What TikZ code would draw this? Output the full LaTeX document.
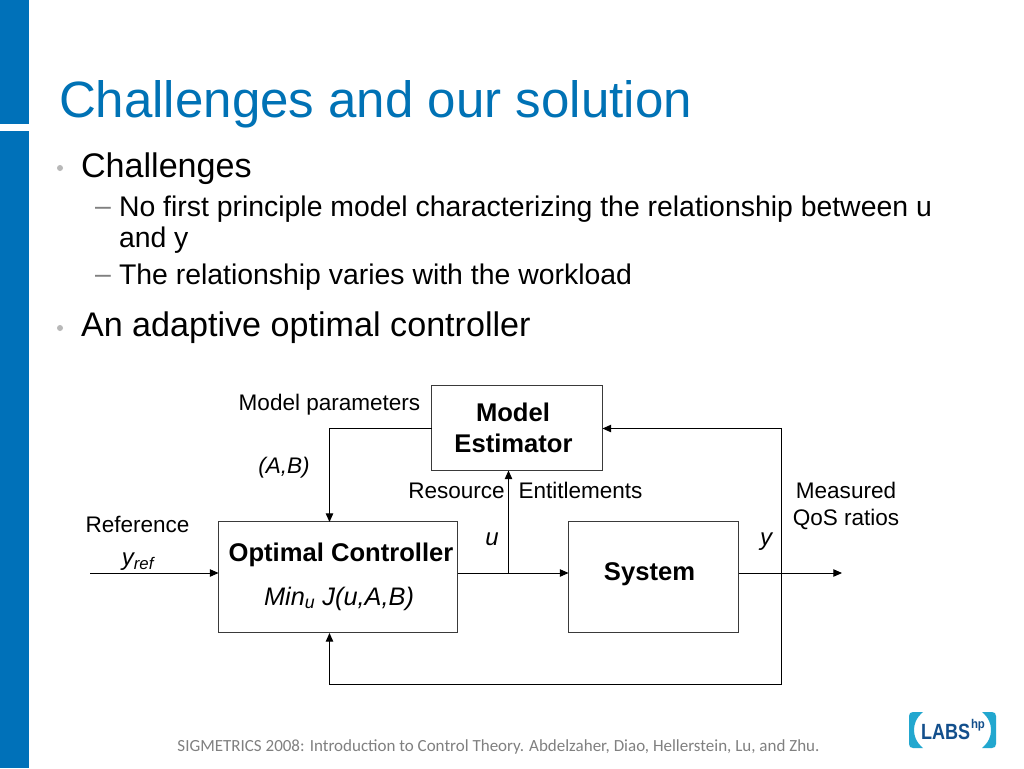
\documentclass[tikz,border=0pt]{standalone}
\usepackage{graphicx}
\usepackage{fontspec}
\setmainfont{Liberation Sans}
\newfontfamily\footfont{Carlito}
\usetikzlibrary{arrows.meta}
\definecolor{hpblue}{HTML}{0071B9}
\definecolor{titleblue}{HTML}{0072B5}
\definecolor{logocyan}{HTML}{22A7CF}
\definecolor{logonavy}{HTML}{134F8C}
\definecolor{linegray}{HTML}{3A3A3A}
\newcommand{\szTitle}{\fontsize{38.3}{44}\selectfont}
\newcommand{\szMain}{\fontsize{25.6}{30}\selectfont}
\newcommand{\szSub}{\fontsize{21.3}{25}\selectfont}
\newcommand{\szLab}{\fontsize{16.9}{20}\selectfont}
\newcommand{\szBold}{\fontsize{19.2}{22}\selectfont\bfseries}
\tikzset{
  x=0.75pt,y=-0.75pt,
  txt/.style={inner sep=0pt,outer sep=0pt,anchor=base west},
  ctr/.style={inner sep=0pt,outer sep=0pt,anchor=base},
  titletext/.style={txt,text=titleblue,font=\szTitle},
  maintext/.style={txt,font=\szMain},
  subtext/.style={txt,font=\szSub},
  lab/.style={ctr,font=\szLab},
  boldlab/.style={ctr,font=\szBold},
  dashmark/.style={txt,text=gray,font=\szSub},
  bulletmark/.style={circle,fill=black!28,draw=none,minimum size=4.5pt,inner sep=0pt},
  blockbox/.style={draw=linegray,line width=0.75pt,inner sep=0pt,outer sep=0pt},
  conn/.style={draw=black,line width=0.7pt},
  arr/.style={conn,-{Triangle[length=6.5pt,width=5.6pt]}},
}
\begin{document}
\begin{tikzpicture}
\useasboundingbox[fill=white] (0,0) rectangle (1024,768);
% side bar
\fill[hpblue] (0,0) rectangle (28.7,124);
\fill[hpblue] (0,131) rectangle (28.7,768);
% text
\node[titletext] (title) at (59,117) {Challenges and our solution};
\node[bulletmark] (b1) at (60,168) {};
\node[maintext] (m1) at (81,177) {Challenges};
\node[dashmark] (d1) at (95,215) {–};
\node[subtext] (s1) at (119,216) {No first principle model characterizing the relationship between u};
\node[subtext] (s1b) at (119,247) {and y};
\node[dashmark] (d2) at (95,283) {–};
\node[subtext] (s2) at (119,284) {The relationship varies with the workload};
\node[bulletmark] (b2) at (60,328) {};
\node[maintext] (m2) at (81,336) {An adaptive optimal controller};
% blocks
\node[blockbox,minimum width=128.25pt,minimum height=63.75pt] (est) at (517,428) {};
\node[blockbox,minimum width=179.25pt,minimum height=83.25pt] (ctrl) at (338,577) {};
\node[blockbox,minimum width=127.5pt,minimum height=83.25pt] (sys) at (653.5,577) {};
\node[boldlab] (estA) at (513,421) {Model};
\node[boldlab] (estB) at (513.5,452) {Estimator};
\node[boldlab] (ctrlA) at (341,561) {Optimal Controller};
\node[lab,font=\fontsize{19}{22}\selectfont\itshape] (ctrlB) at (339,605) {Min\textsubscript{u} J(u,A,B)};
\node[boldlab] (sysA) at (649.5,580) {System};
% labels
\node[lab] (mp) at (329.5,410) {Model parameters};
\node[lab,font=\szLab\itshape] (ab) at (284,473) {(A,B)};
\node[lab] (res) at (456.5,498) {Resource};
\node[lab] (ent) at (580.5,498) {Entitlements};
\node[lab] (mq1) at (846,498) {Measured};
\node[lab] (mq2) at (846,525) {QoS ratios};
\node[lab] (ref) at (137.5,532) {Reference};
\node[lab,font=\fontsize{18}{20}\selectfont\itshape] (yr) at (138,565) {y\textsubscript{ref}};
\node[lab,font=\fontsize{18}{20}\selectfont\itshape] (ul) at (492,545) {u};
\node[lab,font=\fontsize{18}{20}\selectfont\itshape] (yl) at (766,545) {y};
% connector points
\coordinate (refin) at (90,573);
\coordinate (ctrlin) at (ctrl.west |- refin);
\coordinate (ctrlout) at (ctrl.east |- refin);
\coordinate (sysin) at (sys.west |- refin);
\coordinate (sysout) at (sys.east |- refin);
\coordinate (uj) at (508.5,573);
\coordinate (estu) at (uj |- est.south);
\coordinate (yj) at (781.5,573);
\coordinate (out) at (842,573);
\coordinate (low) at (781.5,684);
\coordinate (esty) at (est.east |- 0,428.5);
\coordinate (estp) at (est.west |- 0,428.5);
\coordinate (ctop) at (329.5,522);
\coordinate (cbot) at (329.5,633);
\draw[arr] (refin) -- (ctrlin);
\draw[arr] (ctrlout) -- (sysin);
\draw[arr] (uj) -- (estu);
\draw[arr] (sysout) -- (out);
\draw[arr] (yj) -- (781.5,428.5) -- (esty);
\draw[arr] (yj) -- (low) -- (329.5,684) -- (cbot);
\draw[arr] (estp) -- (329.5,428.5) -- (ctop);
% footer
\node[ctr,font=\footfont\fontsize{12.75}{15}\selectfont,text=black!50] (foot) at (498.5,751) {SIGMETRICS 2008: Introduction to Control Theory. Abdelzaher, Diao, Hellerstein, Lu, and Zhu.};
% logo
\fill[logocyan] (923,712) -- (913,712) .. controls (910.5,712) and (909,713.5) .. (909,716) -- (909,744) .. controls (909,746.5) and (910.5,748) .. (913,748) -- (923,748) .. controls (916,742) and (914,736) .. (914,730) .. controls (914,724) and (916,718) .. (923,712) -- cycle;
\fill[logocyan] (982,712) -- (992,712) .. controls (994.5,712) and (996,713.5) .. (996,716) -- (996,744) .. controls (996,746.5) and (994.5,748) .. (992,748) -- (982,748) .. controls (989,742) and (991,736) .. (991,730) .. controls (991,724) and (989,718) .. (982,712) -- cycle;
\node[txt,text=logonavy,font=\fontsize{16.5}{20}\selectfont\bfseries] (labs) at (921,739) {\scalebox{0.82}[1]{LABS}};
\node[txt,text=logonavy,font=\fontsize{9.5}{12}\selectfont\bfseries] (hp) at (971,728) {\scalebox{0.9}[1]{hp}};
\end{tikzpicture}
\end{document}
